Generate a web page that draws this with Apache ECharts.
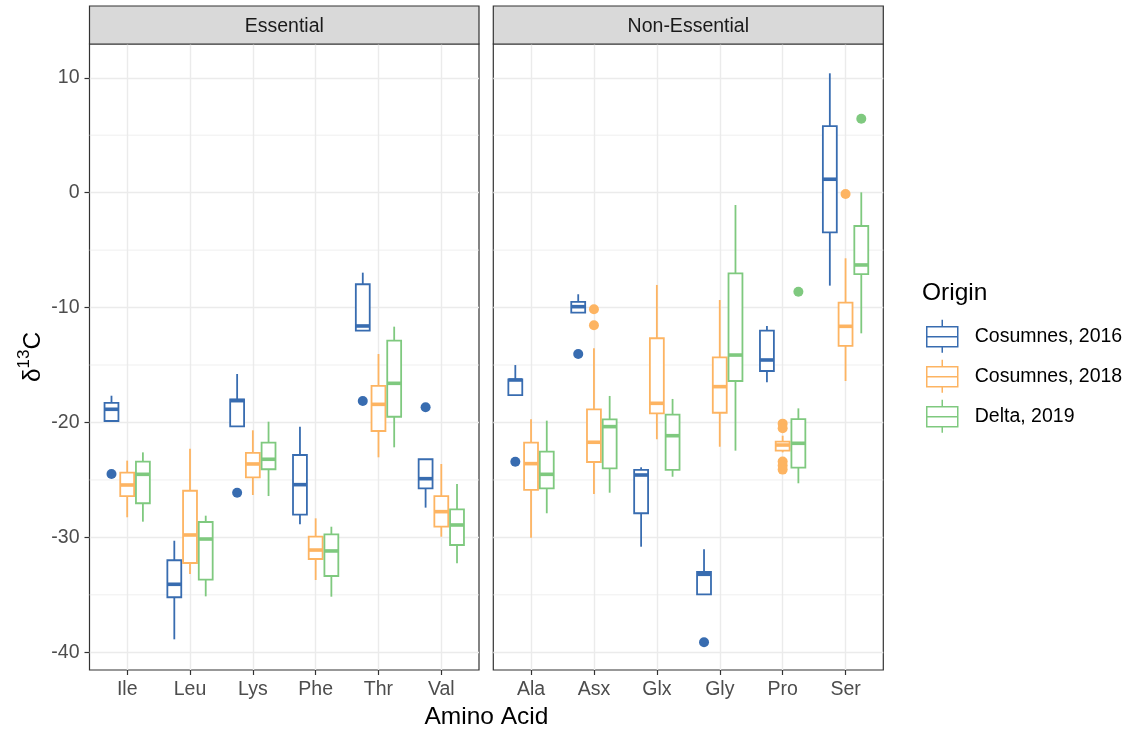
<!DOCTYPE html>
<html>
<head>
<meta charset="utf-8">
<script src="https://cdn.jsdelivr.net/npm/echarts@6/dist/echarts.min.js"></script>
<style>
  html, body { margin: 0; padding: 0; background: #ffffff; }
  #chart { width: 1139px; height: 732px; }
</style>
</head>
<body>
<div id="chart"></div>
<script>
// Facet categories
const essentialAcids = ['Ile', 'Leu', 'Lys', 'Phe', 'Thr', 'Val'];
const nonEssentialAcids = ['Ala', 'Asx', 'Glx', 'Gly', 'Pro', 'Ser'];
const facetTitles = ['Essential', 'Non-Essential'];
const origins = ['Cosumnes, 2016', 'Cosumnes, 2018', 'Delta, 2019'];
const originColors = ['#386CB0', '#FDB462', '#7FC97F'];

// y-axis breaks
const yMajorBreaks = [-40, -30, -20, -10, 0, 10];
const yMinorBreaks = [-35, -25, -15, -5, 5];

// Box statistics per amino acid: [lower whisker, Q1, median, Q3, upper whisker]
const cos2016Essential = [
  [-19.87, -19.87, -18.85, -18.30, -17.67],
  [-38.87, -35.21, -34.08, -31.99, -30.29],
  [-20.33, -20.33, -18.10, -18.00, -15.78],
  [-28.86, -28.02, -25.41, -22.83, -20.36],
  [-12.01, -12.01, -11.60, -7.97, -6.96],
  [-27.41, -25.73, -24.89, -23.20, -23.20]
];
const cos2018Essential = [
  [-28.25, -26.40, -25.44, -24.37, -23.32],
  [-33.19, -32.23, -29.79, -25.94, -22.28],
  [-26.31, -24.77, -23.61, -22.65, -20.68],
  [-33.71, -31.88, -31.10, -29.94, -28.34],
  [-23.03, -20.74, -18.42, -16.82, -14.04],
  [-29.94, -29.07, -27.76, -26.40, -23.61]
];
const delta2019Essential = [
  [-28.63, -27.03, -24.51, -23.41, -22.60],
  [-35.13, -33.68, -30.14, -28.66, -28.11],
  [-26.40, -24.07, -23.20, -21.76, -19.93],
  [-35.16, -33.36, -31.18, -29.73, -29.07],
  [-22.16, -19.50, -16.59, -12.88, -11.66],
  [-32.25, -30.66, -28.92, -27.56, -25.35]
];
const cos2016NonEssential = [
  [-17.61, -17.61, -16.30, -16.24, -15.00],
  [-10.44, -10.44, -9.92, -9.51, -8.84],
  [-30.81, -27.90, -24.57, -24.13, -23.90],
  [-34.95, -34.95, -33.21, -33.01, -31.04],
  [-16.50, -15.52, -14.56, -12.01, -11.60],
  [-8.09, -3.45, 1.17, 5.80, 10.39]
];
const cos2018NonEssential = [
  [-30.03, -25.87, -23.58, -21.76, -19.72],
  [-26.22, -23.44, -21.72, -18.85, -13.54],
  [-21.46, -19.20, -18.33, -12.67, -8.03],
  [-22.11, -19.15, -16.88, -14.33, -9.34],
  [-22.60, -22.45, -21.96, -21.67, -21.15],
  [-16.39, -13.34, -11.63, -9.57, -5.71]
];
const delta2019NonEssential = [
  [-27.90, -25.73, -24.51, -22.54, -19.84],
  [-26.11, -23.99, -20.36, -19.72, -17.69],
  [-24.72, -24.13, -21.15, -19.32, -17.95],
  [-22.45, -16.39, -14.13, -7.02, -1.07],
  [-25.29, -23.93, -21.81, -19.70, -18.77],
  [-12.24, -7.08, -6.29, -2.90, 0.03]
];

// Outliers: [category index, value]
const cos2016EssentialOut = [[0, -24.48], [2, -26.11], [4, -18.13], [5, -18.68]];
const cos2018EssentialOut = [];
const delta2019EssentialOut = [];
const cos2016NonEssentialOut = [[0, -23.41], [1, -14.04], [3, -39.13]];
const cos2018NonEssentialOut = [[1, -10.15], [1, -11.54], [4, -20.10], [4, -20.50],
  [4, -23.40], [4, -23.75], [4, -24.10], [5, -0.11]];
const delta2019NonEssentialOut = [[4, -8.62], [5, 6.44]];

// Assemble per facet / per origin
const facetBoxes = [
  [cos2016Essential, cos2018Essential, delta2019Essential],
  [cos2016NonEssential, cos2018NonEssential, delta2019NonEssential]
];
const facetOutliers = [
  [cos2016EssentialOut, cos2018EssentialOut, delta2019EssentialOut],
  [cos2016NonEssentialOut, cos2018NonEssentialOut, delta2019NonEssentialOut]
];
const facetCategories = [essentialAcids, nonEssentialAcids];

// Dodge layout (in category units)
const boxWidth = 0.25;
const dodge = [-0.25, 0, 0.25];

// Panel geometry
const panelTop = 44;
const panelHeight = 626;
const panels = [
  { left: 89.5, width: 389.5 },
  { left: 493.3, width: 390 }
];
const stripHeight = 38;
const yMin = -41.54;
const yMax = 12.94;

const FONT = '"Liberation Sans", Arial, Helvetica, sans-serif';
const LINE_W = 1.8;

function boxRenderer(group) {
  return function (params, api) {
    const x = api.value(0) + dodge[group];
    const lo = api.coord([x, api.value(1)]);
    const q1 = api.coord([x, api.value(2)]);
    const md = api.coord([x, api.value(3)]);
    const q3 = api.coord([x, api.value(4)]);
    const hi = api.coord([x, api.value(5)]);
    const w = api.size([boxWidth, 0])[0];
    const half = w / 2;
    const inset = LINE_W / 2;
    const color = api.visual('color');
    const ls = { stroke: color, lineWidth: LINE_W };
    return {
      type: 'group',
      children: [
        { type: 'line', shape: { x1: lo[0], y1: lo[1], x2: q1[0], y2: q1[1] }, style: ls },
        { type: 'line', shape: { x1: q3[0], y1: q3[1], x2: hi[0], y2: hi[1] }, style: ls },
        { type: 'rect', shape: { x: q3[0] - half + inset, y: q3[1], width: w - 2 * inset, height: q1[1] - q3[1] },
          style: { fill: '#ffffff', stroke: color, lineWidth: LINE_W } },
        { type: 'line', shape: { x1: md[0] - half + inset, y1: md[1], x2: md[0] + half - inset, y2: md[1] },
          style: { stroke: color, lineWidth: LINE_W * 2 } }
      ]
    };
  };
}

function minorGridRenderer(params, api) {
  const cs = params.coordSys;
  const y = api.coord([0, api.value(1)])[1];
  return {
    type: 'line',
    shape: { x1: cs.x, y1: y, x2: cs.x + cs.width, y2: y },
    style: { stroke: '#ebebeb', lineWidth: 0.8 }
  };
}

const grids = panels.map(p => ({
  left: p.left, top: panelTop, width: p.width, height: panelHeight,
  show: true, borderColor: '#333333', borderWidth: 1.2, backgroundColor: 'transparent',
  containLabel: false
}));

const xAxes = panels.map((p, i) => ({
  type: 'value', gridIndex: i, min: -0.6, max: 5.6, position: 'bottom',
  axisLine: { show: false, onZero: false },
  axisTick: { show: true, inside: false, length: 5, customValues: [0, 1, 2, 3, 4, 5],
    lineStyle: { color: '#333333', width: 1.2 } },
  axisLabel: { show: true, customValues: [0, 1, 2, 3, 4, 5], margin: 10,
    color: '#4d4d4d', fontSize: 19.5, fontFamily: FONT,
    formatter: v => facetCategories[i][Math.round(v)] },
  splitLine: { show: true, lineStyle: { color: '#ebebeb', width: 1.4 } }
}));

const yAxes = panels.map((p, i) => ({
  type: 'value', gridIndex: i, min: yMin, max: yMax, position: 'left',
  axisLine: { show: false, onZero: false },
  axisTick: { show: i === 0, inside: false, length: 5, customValues: yMajorBreaks,
    lineStyle: { color: '#333333', width: 1.2 } },
  axisLabel: { show: i === 0, customValues: yMajorBreaks, margin: 10,
    color: '#4d4d4d', fontSize: 19.5, fontFamily: FONT },
  splitLine: { show: true, lineStyle: { color: '#ebebeb', width: 1.4 } }
}));

const series = [];
facetBoxes.forEach((groups, f) => {
  series.push({
    type: 'custom', name: 'minor-grid-' + f, xAxisIndex: f, yAxisIndex: f,
    renderItem: minorGridRenderer, z: 1, silent: true,
    data: yMinorBreaks.map(v => [0, v])
  });
  groups.forEach((stats, g) => {
    series.push({
      type: 'custom', name: origins[g], xAxisIndex: f, yAxisIndex: f, z: 3,
      itemStyle: { color: originColors[g] },
      renderItem: boxRenderer(g),
      encode: { x: 0, y: [1, 2, 3, 4, 5] },
      data: stats.map((s, c) => [c].concat(s))
    });
    series.push({
      type: 'scatter', name: origins[g], xAxisIndex: f, yAxisIndex: f, z: 4,
      symbol: 'circle', symbolSize: 10,
      itemStyle: { color: originColors[g], opacity: 1 },
      data: facetOutliers[f][g].map(o => [o[0] + dodge[g], o[1]])
    });
  });
});

// Legend key: whisker / box / median / whisker glyph
const keyPath = 'path://M15.5,0V7M0,7H31V27H0ZM0,17H31M15.5,27V33';

const graphics = [];
panels.forEach((p, i) => {
  graphics.push({
    type: 'rect', z: 10,
    shape: { x: p.left, y: panelTop - stripHeight, width: p.width, height: stripHeight },
    style: { fill: '#d9d9d9', stroke: '#333333', lineWidth: 1.2 }
  });
  graphics.push({
    type: 'text', z: 11,
    x: p.left + p.width / 2, y: panelTop - stripHeight / 2 + 1.5,
    style: { text: facetTitles[i], align: 'center', verticalAlign: 'middle',
      font: '19.5px ' + FONT, fill: '#1a1a1a' }
  });
});
graphics.push({
  type: 'text', z: 11,
  x: (panels[0].left + panels[1].left + panels[1].width) / 2, y: 717,
  style: { text: 'Amino Acid', align: 'center', verticalAlign: 'middle',
    font: '24.5px ' + FONT, fill: '#000000' }
});
graphics.push({
  type: 'text', z: 11,
  x: 31, y: panelTop + panelHeight / 2, rotation: Math.PI / 2,
  style: {
    text: '{b|δ}{s|13}{b|C}', align: 'center', verticalAlign: 'middle',
    fill: '#000000',
    rich: {
      b: { fontSize: 24.5, fontFamily: FONT, fill: '#000000', lineHeight: 30, verticalAlign: 'bottom' },
      s: { fontSize: 17, fontFamily: FONT, fill: '#000000', lineHeight: 30, verticalAlign: 'top', padding: [0, 0, 10, 0] }
    }
  }
});

const chart = echarts.init(document.getElementById('chart'), null, { renderer: 'canvas' });
chart.setOption({
  animation: false,
  backgroundColor: '#ffffff',
  title: {
    text: 'Origin', left: 922, top: 281, padding: 0,
    textStyle: { fontSize: 24.5, fontWeight: 'normal', color: '#000000', fontFamily: FONT }
  },
  legend: {
    orient: 'vertical', left: 926, top: 319, padding: 0,
    itemWidth: 31, itemHeight: 33, itemGap: 5.5,
    selectedMode: false,
    textStyle: { fontSize: 19.5, color: '#000000', fontFamily: FONT, padding: [0, 0, 0, 12] },
    data: origins.map((n, i) => ({
      name: n, icon: keyPath,
      itemStyle: { color: 'rgba(0,0,0,0)', borderColor: originColors[i], borderWidth: 1.5 }
    }))
  },
  grid: grids,
  xAxis: xAxes,
  yAxis: yAxes,
  series: series,
  graphic: graphics
});
</script>
</body>
</html>
